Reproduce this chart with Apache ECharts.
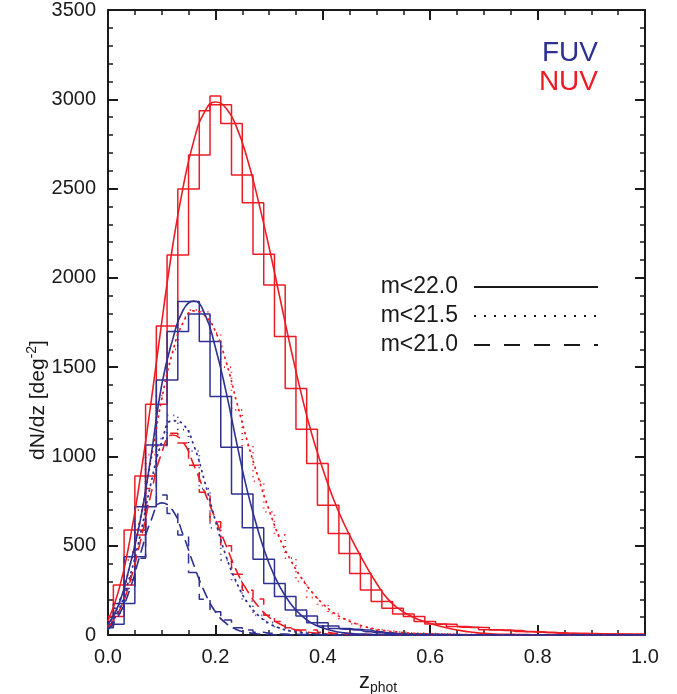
<!DOCTYPE html>
<html><head><meta charset="utf-8">
<script src="https://cdn.jsdelivr.net/npm/echarts@6/dist/echarts.min.js"></script>
<style>html,body{margin:0;padding:0;background:#fff}#c{width:677px;height:694px}</style>
</head><body><div id="c"></div>
<script>
// photometric-redshift bin centres (bin width 0.02)
const zBins = [0.00,0.02,0.04,0.06,0.08,0.10,0.12,0.14,0.16,0.18,0.20,0.22,0.24,0.26,0.28,0.30,0.32,0.34,0.36,0.38,0.40,0.42,0.44,0.46,0.48,0.50,0.52,0.54,0.56,0.58,0.60,0.62,0.64,0.66,0.68,0.70,0.72,0.74,0.76,0.78,0.80,0.82,0.84,0.86,0.88,0.90,0.92,0.94,0.96,0.98,1.00];

const xTicks = [0.0,0.2,0.4,0.6,0.8,1.0];
const yTicks = [0,500,1000,1500,2000,2500,3000,3500];

// NUV, m<22.0
const nuvHist220 = [103,280,588,890,1292,1730,2128,2498,2688,2936,3018,2970,2865,2576,2421,2132,1960,1671,1381,1152,961,726,569,457,345,252,187,150,118,103,75,62,60,47,43,42,29,28,25,20,18,15,12,10,9,8,7,6,5,4,4];
const nuvFit220 = [80,250,520,880,1300,1750,2170,2510,2770,2930,2985,2950,2840,2660,2430,2170,1890,1610,1350,1120,930,760,620,500,390,290,205,150,112,85,65,48,34,23,15,9,6,4,3,2,1,0,0,0,0,0,0,0,0,0,0];
// FUV, m<22.0
const fuvHist220 = [60,177,438,718,1064,1428,1699,1867,1867,1798,1643,1335,1052,790,601,424,289,215,140,106,69,50,37,32,28,18,12,9,7,5,4,3,3,2,2,2,1,1,1,1,1,1,1,0,0,0,0,0,0,0,0];
const fuvFit220 = [60,170,380,640,1000,1400,1650,1820,1870,1800,1610,1360,1070,800,580,400,270,175,110,65,40,22,12,7,4,2,1,0,0,0,0,0,0,0,0,0,0,0,0,0,0,0,0,0,0,0,0,0,0,0,0];
// NUV, m<21.5
const nuvHist215 = [60,200,420,700,1010,1340,1600,1780,1820,1810,1690,1500,1260,1060,860,690,560,430,300,210,165,120,90,62,45,30,24,18,12,10,8,6,5,4,3,3,2,2,2,1,1,1,1,1,1,1,0,0,0,0,0];
const nuvFit215 = [50,170,380,650,980,1320,1580,1750,1815,1790,1700,1530,1300,1080,880,700,540,420,320,240,175,125,90,65,45,32,22,16,11,8,6,4,3,2,1,1,0,0,0,0,0,0,0,0,0,0,0,0,0,0,0];
// FUV, m<21.5
const fuvHist215 = [50,150,330,620,900,1100,1230,1150,1030,820,600,420,300,190,110,70,40,25,15,10,6,4,3,2,2,1,1,1,0,0,0,0,0,0,0,0,0,0,0,0,0,0,0,0,0,0,0,0,0,0,0];
const fuvFit215 = [40,140,320,560,850,1080,1200,1180,1060,860,640,440,290,180,110,65,38,22,12,7,4,2,1,0,0,0,0,0,0,0,0,0,0,0,0,0,0,0,0,0,0,0,0,0,0,0,0,0,0,0,0];
// NUV, m<21.0
const nuvHist210 = [50,150,310,560,820,1060,1130,1075,950,800,634,500,340,250,202,110,75,40,28,28,15,10,8,5,4,3,2,2,1,1,1,0,0,0,0,0,0,0,0,0,0,0,0,0,0,0,0,0,0,0,0];
const nuvFit210 = [40,130,290,520,790,1020,1120,1080,950,800,650,500,355,245,160,100,62,38,22,13,8,5,3,2,1,1,0,0,0,0,0,0,0,0,0,0,0,0,0,0,0,0,0,0,0,0,0,0,0,0,0];
// FUV, m<21.0
const fuvHist210 = [40,120,260,430,725,784,680,560,350,200,130,84,40,28,15,10,6,4,3,2,1,1,0,0,0,0,0,0,0,0,0,0,0,0,0,0,0,0,0,0,0,0,0,0,0,0,0,0,0,0,0];
const fuvFit210 = [30,110,250,450,640,740,700,560,390,240,130,65,30,14,6,3,1,0,0,0,0,0,0,0,0,0,0,0,0,0,0,0,0,0,0,0,0,0,0,0,0,0,0,0,0,0,0,0,0,0,0];

const legendLabels = ['m<22.0','m<21.5','m<21.0'];

const RED = '#ED1C24', BLUE = '#2E3192', INK = '#1a1a1a';
const FONT = 'Liberation Sans, Arial, Helvetica, sans-serif';
const DOT = [1, 5], DASH = [10, 7];

function pairs(v){ return zBins.map((z,i)=>[z, v[i]]); }
// second outline of the histogram (closes each bin box down to its lower neighbour)
function boxLevels(a){
  return a.map((v,i)=>{
    const lo=[a[i-1],a[i+1]].filter(x=>x!==undefined && x<v);
    return lo.length?Math.max(...lo):v;
  });
}
function hist(v,color,type,w){
  return {type:'line',data:pairs(v),step:'middle',showSymbol:false,silent:true,
    lineStyle:{color,width:w||1.5,type:type||'solid'},z:2};
}
function fit(v,color,type,w){
  return {type:'line',data:pairs(v),smooth:0.5,showSymbol:false,silent:true,
    lineStyle:{color,width:w||1.6,type:type||'solid',cap:'round'},z:3};
}

const series = [
  hist(nuvHist210,RED,DASH), fit(nuvFit210,RED,DASH),
  hist(nuvHist215,RED,DOT,1.8), fit(nuvFit215,RED,DOT,1.8),
  hist(nuvHist220,RED), hist(boxLevels(nuvHist220),RED), fit(nuvFit220,RED),
  hist(fuvHist210,BLUE,DASH), fit(fuvFit210,BLUE,DASH),
  hist(fuvHist215,BLUE,DOT,1.8), fit(fuvFit215,BLUE,DOT,1.8),
  hist(fuvHist220,BLUE), hist(boxLevels(fuvHist220),BLUE), fit(fuvFit220,BLUE)
];

const axLine = {show:true,onZero:false,lineStyle:{color:INK,width:2}};
const axTick = {show:true,inside:true,length:10,lineStyle:{color:INK,width:2}};
const lab = {fontSize:20,color:INK,fontFamily:FONT};

const option = {
  animation:false,
  backgroundColor:'#fff',
  grid:{left:108,right:32,top:10,bottom:59,containLabel:false},
  xAxis:[
    {type:'value',position:'bottom',min:xTicks[0],max:xTicks[xTicks.length-1],interval:0.2,
     axisLine:axLine,axisTick:axTick,
     minorTick:{show:true,splitNumber:4,length:5,lineStyle:{color:INK,width:1.5}},
     splitLine:{show:false},
     axisLabel:{...lab,margin:12,formatter:v=>v.toFixed(1)}},
    {type:'value',position:'top',min:xTicks[0],max:xTicks[xTicks.length-1],interval:0.2,
     axisLine:axLine,axisTick:axTick,
     minorTick:{show:true,splitNumber:4,length:5,lineStyle:{color:INK,width:1.5}},
     splitLine:{show:false},axisLabel:{show:false}}
  ],
  yAxis:[
    {type:'value',position:'left',min:yTicks[0],max:yTicks[yTicks.length-1],interval:500,
     axisLine:axLine,axisTick:axTick,
     minorTick:{show:true,splitNumber:5,length:5,lineStyle:{color:INK,width:1.5}},
     splitLine:{show:false},
     axisLabel:{...lab,margin:12,formatter:v=>String(v)}},
    {type:'value',position:'right',min:yTicks[0],max:yTicks[yTicks.length-1],interval:500,
     axisLine:axLine,axisTick:axTick,
     minorTick:{show:true,splitNumber:5,length:5,lineStyle:{color:INK,width:1.5}},
     splitLine:{show:false},axisLabel:{show:false}}
  ],
  series,
  graphic:[
    {type:'text',x:598,y:67,style:{text:'FUV',fill:BLUE,font:'28px '+FONT,textAlign:'right',textVerticalAlign:'bottom'}},
    {type:'text',x:598,y:96,style:{text:'NUV',fill:RED,font:'28px '+FONT,textAlign:'right',textVerticalAlign:'bottom'}},
    {type:'text',x:458,y:287,style:{text:legendLabels[0],fill:INK,font:'23px '+FONT,textAlign:'right',textVerticalAlign:'middle'}},
    {type:'text',x:458,y:316,style:{text:legendLabels[1],fill:INK,font:'23px '+FONT,textAlign:'right',textVerticalAlign:'middle'}},
    {type:'text',x:458,y:345,style:{text:legendLabels[2],fill:INK,font:'23px '+FONT,textAlign:'right',textVerticalAlign:'middle'}},
    {type:'line',shape:{x1:474,y1:287,x2:598,y2:287},style:{stroke:INK,lineWidth:2}},
    {type:'line',shape:{x1:474,y1:316,x2:598,y2:316},style:{stroke:INK,lineWidth:2,lineDash:[2,8]}},
    {type:'line',shape:{x1:474,y1:345,x2:598,y2:345},style:{stroke:INK,lineWidth:2,lineDash:[16,14]}},
    {type:'text',x:378,y:682,style:{
      text:'{a|z}{b|phot}',textAlign:'center',textVerticalAlign:'middle',
      rich:{a:{fontSize:22,fontFamily:FONT,fill:INK,color:INK,lineHeight:26,verticalAlign:'middle'},
            b:{fontSize:14,fontFamily:FONT,fill:INK,color:INK,verticalAlign:'bottom',lineHeight:26}}}},
    {type:'text',x:38,y:400,rotation:Math.PI/2,style:{
      text:'{a|dN/dz [deg}{b|-2}{a|]}',textAlign:'center',textVerticalAlign:'middle',
      rich:{a:{fontSize:21,fontFamily:FONT,fill:INK,color:INK,lineHeight:26,verticalAlign:'middle'},
            b:{fontSize:14,fontFamily:FONT,fill:INK,color:INK,verticalAlign:'top',lineHeight:26}}}}
  ]
};
const chart = echarts.init(document.getElementById('c'),null,{renderer:'canvas'});
chart.setOption(option);
</script>
</body></html>
